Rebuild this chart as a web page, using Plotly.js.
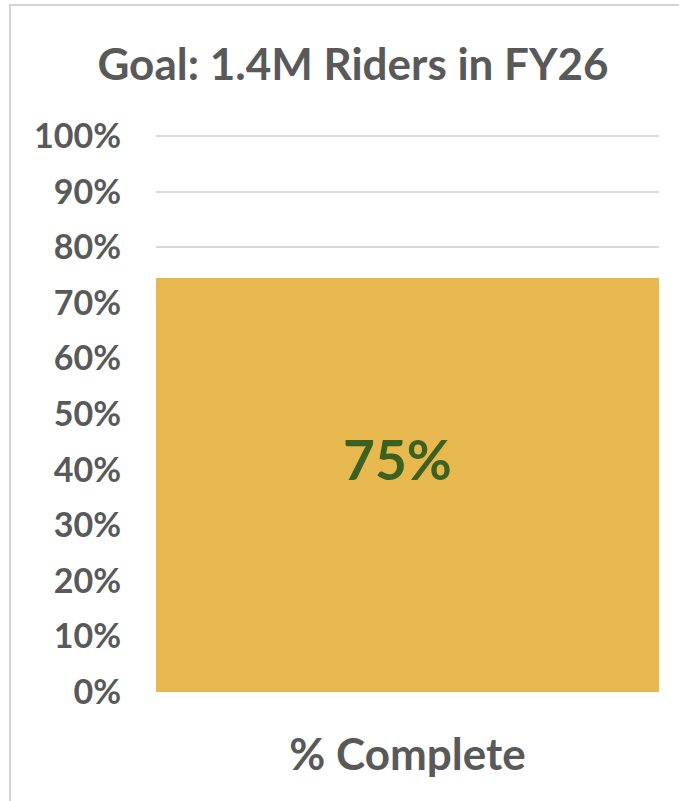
<!DOCTYPE html>
<html>
<head>
<meta charset="utf-8">
<script src="https://cdn.plot.ly/plotly-3.0.1.min.js"></script>
<style>
  html, body { margin: 0; padding: 0; background: #fff; overflow: hidden; }
  #frame { position: absolute; left: 9px; top: 4px; width: 700px; height: 820px;
           border-left: 2px solid #d4d4d4; border-top: 2px solid #d4d4d4; }
  #chart { position: absolute; left: 0; top: 0; width: 679px; height: 801px; }
</style>
</head>
<body>
<div id="frame"></div>
<div id="chart"></div>
<script>
const categories = ["% Complete"];
const values = [0.745];
const labels = ["75%"];
const titleText = "Goal: 1.4M Riders in FY26";

const fontFam = "Lato, 'Open Sans', 'Liberation Sans', sans-serif";
const gray = "#595959";

const trace = {
  type: "bar",
  x: categories,
  y: values,
  marker: { color: "#E6B84E", line: { width: 0 } },
  hoverinfo: "skip"
};

const layout = {
  width: 679, height: 801,
  margin: { l: 156, r: 20, t: 135, b: 109, pad: 0 },
  paper_bgcolor: "rgba(0,0,0,0)",
  plot_bgcolor: "rgba(0,0,0,0)",
  showlegend: false,
  bargap: 0,
  title: {
    text: titleText,
    font: { family: fontFam, size: 44, color: gray, weight: 700 },
    xref: "container", x: 353/679, xanchor: "center",
    yref: "container", y: 1 - 65/801, yanchor: "middle"
  },
  xaxis: {
    type: "category",
    showgrid: false, zeroline: false, showline: false,
    ticks: "",
    ticklabelstandoff: 33,
    tickfont: { family: fontFam, size: 44, color: gray, weight: 700 }
  },
  yaxis: {
    range: [0, 1.002],
    dtick: 0.1, tick0: 0,
    tickformat: ".0%",
    showgrid: true, gridcolor: "#d9d9d9", gridwidth: 2,
    zeroline: false, showline: false,
    ticks: "",
    ticklabelstandoff: 34,
    tickfont: { family: fontFam, size: 34, color: gray, weight: 700 }
  },
  annotations: categories.map((c, i) => ({
    x: c, y: values[i] / 2, xref: "x", yref: "y",
    text: labels[i], showarrow: false,
    xshift: -10, yshift: 26,
    font: { family: fontFam, size: 55, color: "#3B6020", weight: 700 }
  }))
};

Plotly.newPlot("chart", [trace], layout, { displayModeBar: false, staticPlot: true });
</script>
</body>
</html>
